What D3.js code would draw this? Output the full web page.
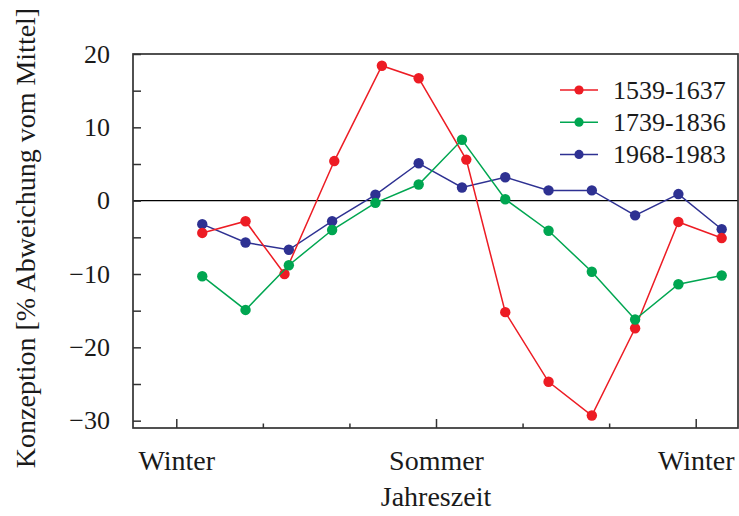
<!DOCTYPE html>
<html>
<head>
<meta charset="utf-8">
<script src="https://cdn.jsdelivr.net/npm/d3@7"></script>
<style>
  body { margin: 0; background: #fff; }
  svg text { font-family: "Liberation Serif", "Tinos", "Times New Roman", "DejaVu Serif", serif; fill: #1a1a1a; }
</style>
</head>
<body>
<svg id="chart" width="739" height="516"></svg>
<script>
// Conception rates by season, % deviation from the mean
const seriesNames = ["1539-1637", "1739-1836", "1968-1983"];
const seriesColors = ["#ed1c24", "#00a651", "#2e3192"];

// positions along the year (month units, Winter = 0, Sommer = 6, Winter = 12)
const monthPos = [0.6, 1.6, 2.6, 3.6, 4.6, 5.6, 6.6, 7.6, 8.6, 9.6, 10.6, 11.6, 12.6];
const earlyPos = [0.6, 1.6, 2.5, 3.65, 4.75, 5.6, 6.7, 7.6, 8.6, 9.6, 10.6, 11.6, 12.6];

const values1539 = [-4.4, -2.8, -10.0, 5.4, 18.4, 16.7, 5.6, -15.2, -24.7, -29.3, -17.4, -2.9, -5.1];
const values1739 = [-10.3, -14.9, -8.8, -4.0, -0.3, 2.2, 8.3, 0.2, -4.1, -9.7, -16.2, -11.4, -10.2];
const values1968 = [-3.2, -5.7, -6.7, -2.8, 0.8, 5.1, 1.8, 3.2, 1.4, 1.4, -2.0, 0.9, -3.9];

const seasonTicks = [0, 6, 12];
const seasonLabels = ["Winter", "Sommer", "Winter"];
const minorSeasonTicks = [2, 4, 8, 10];
const yTickValues = [-30, -25, -20, -15, -10, -5, 0, 5, 10, 15, 20];

const xTitle = "Jahreszeit";
const yTitle = "Konzeption [% Abweichung vom Mittel]";

const plot = { left: 133, right: 738, top: 54, bottom: 428 };
const numberFontSize = 26;
const wordFontSize = 28;

const svg = d3.select("#chart");

const x = d3.scaleLinear().domain([-1, 13]).range([plot.left, 739]);
const y = d3.scaleLinear().domain([-31, 20]).range([plot.bottom, plot.top]);

// zero reference line
svg.append("line")
  .attr("x1", plot.left).attr("x2", plot.right)
  .attr("y1", y(0)).attr("y2", y(0))
  .attr("stroke", "#000").attr("stroke-width", 1.4);

// y axis: inward ticks every 5, labels every 10
const yAxis = d3.axisLeft(y)
  .tickValues(yTickValues)
  .tickSizeInner(-8).tickSizeOuter(0)
  .tickPadding(23)
  .tickFormat(d => d % 10 === 0 ? d3.format("d")(d) : "");
const gy = svg.append("g").attr("transform", `translate(${plot.left},0)`).call(yAxis);
gy.attr("font-family", null).attr("font-size", numberFontSize);
gy.select(".domain").remove();
gy.selectAll(".tick line").attr("stroke", "#333").attr("stroke-width", 1.5);
gy.selectAll(".tick text").attr("fill", "#1a1a1a");

// x axis: major season ticks with labels, minor ticks between
const xAxis = d3.axisBottom(x)
  .tickValues(seasonTicks)
  .tickSizeInner(-9).tickSizeOuter(0)
  .tickPadding(22)
  .tickFormat((d, i) => seasonLabels[i]);
const gx = svg.append("g").attr("transform", `translate(0,${plot.bottom})`).call(xAxis);
gx.attr("font-family", null).attr("font-size", wordFontSize);
gx.select(".domain").remove();
gx.selectAll(".tick line").attr("stroke", "#333").attr("stroke-width", 1.5);
gx.selectAll(".tick text").attr("fill", "#1a1a1a");

const xMinor = d3.axisBottom(x)
  .tickValues(minorSeasonTicks)
  .tickSizeInner(-4.5).tickSizeOuter(0)
  .tickFormat("");
const gxm = svg.append("g").attr("transform", `translate(0,${plot.bottom})`).call(xMinor);
gxm.select(".domain").remove();
gxm.selectAll(".tick line").attr("stroke", "#333").attr("stroke-width", 1.5);

// frame
svg.append("rect")
  .attr("x", plot.left).attr("y", plot.top)
  .attr("width", plot.right - plot.left).attr("height", plot.bottom - plot.top)
  .attr("fill", "none").attr("stroke", "#333").attr("stroke-width", 1.7);

// series
const series = [
  { name: seriesNames[0], color: seriesColors[0], xs: earlyPos, vs: values1539 },
  { name: seriesNames[1], color: seriesColors[1], xs: monthPos, vs: values1739 },
  { name: seriesNames[2], color: seriesColors[2], xs: monthPos, vs: values1968 }
];
const drawOrder = [2, 0, 1];

const line = d3.line().x(d => x(d[0])).y(d => y(d[1]));

drawOrder.forEach(k => {
  const s = series[k];
  const pts = s.vs.map((v, i) => [s.xs[i], v]);
  const g = svg.append("g");
  g.append("path")
    .attr("d", line(pts))
    .attr("fill", "none")
    .attr("stroke", s.color)
    .attr("stroke-width", 1.5);
  g.selectAll("circle").data(pts).join("circle")
    .attr("cx", d => x(d[0])).attr("cy", d => y(d[1]))
    .attr("r", 5.2)
    .attr("fill", s.color);
});

// legend
const legend = svg.append("g");
series.forEach((s, i) => {
  const ly = 90 + i * 32.2;
  legend.append("line")
    .attr("x1", 560).attr("x2", 598).attr("y1", ly).attr("y2", ly)
    .attr("stroke", s.color).attr("stroke-width", 1.5);
  legend.append("circle")
    .attr("cx", 579).attr("cy", ly).attr("r", 4.6).attr("fill", s.color);
  legend.append("text")
    .attr("x", 613).attr("y", ly).attr("dy", "0.34em")
    .attr("font-size", numberFontSize)
    .text(s.name);
});

// axis titles
svg.append("text")
  .attr("x", x(6)).attr("y", 506)
  .attr("text-anchor", "middle")
  .attr("font-size", wordFontSize)
  .text(xTitle);

svg.append("text")
  .attr("transform", `translate(35,238) rotate(-90)`)
  .attr("text-anchor", "middle")
  .attr("font-size", wordFontSize)
  .text(yTitle);
</script>
</body>
</html>
